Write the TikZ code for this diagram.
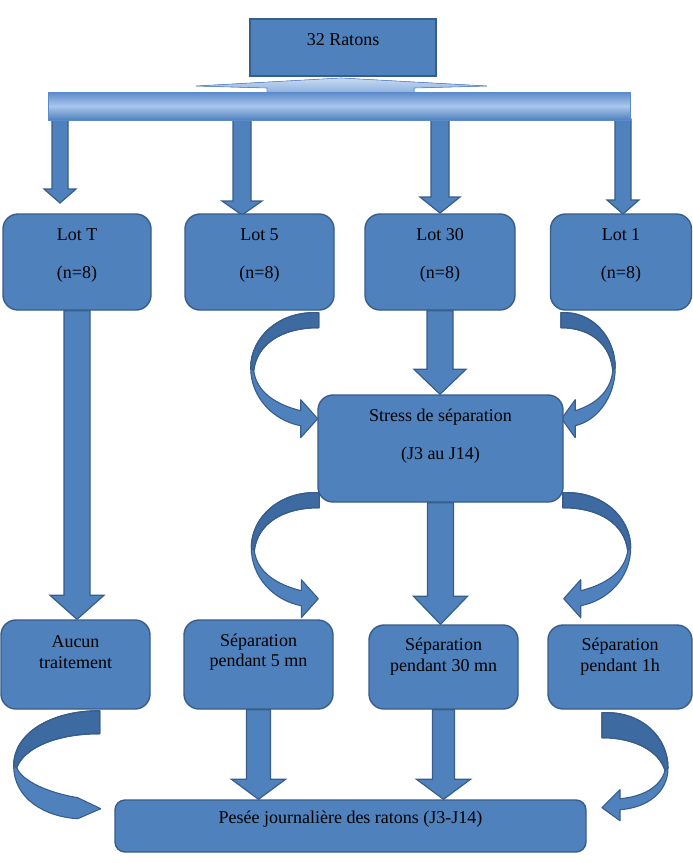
\documentclass[tikz,border=0pt]{standalone}
\usepackage{fontspec}
\setmainfont{Liberation Serif}
\usetikzlibrary{calc}
\definecolor{boxblue}{HTML}{4F81BD}
\definecolor{edgeblue}{HTML}{385D8A}
\definecolor{darkblue}{HTML}{3E6AA2}
\definecolor{barlight}{HTML}{A9C6EC}
\definecolor{bartop}{HTML}{5B8BCB}
\definecolor{trilight}{HTML}{C9DBF2}
\definecolor{trimid}{HTML}{86ACDD}
\pgfdeclarelayer{back}
\pgfsetlayers{back,main}

% curved ribbon arrows: silhouette and darker back part (local px, y down)
\def\pathA{(0,0) .. controls (-40,-2) and (-68,25) .. (-68,55) .. controls (-68,85) and (-45,108) .. (-18,113) -- (-18,125) -- (-1,106) -- (-18,87) -- (-18,98) .. controls (-42,92) and (-62,80) .. (-65,58) .. controls (-62,32) and (-38,15) .. (0,15) -- cycle}
\def\backA{(0,0) .. controls (-40,-2) and (-68,25) .. (-68,55) -- (-65,58) .. controls (-62,32) and (-38,15) .. (0,15) -- cycle}
\def\pathC{(0,0) .. controls (-48,0) and (-86,22) .. (-86,55) .. controls (-86,88) and (-55,106) .. (-22,108) -- (1,98) -- (-22,87) .. controls (-52,82) and (-78,70) .. (-83,57) .. controls (-76,38) and (-45,23) .. (0,23) -- cycle}
\def\backC{(0,0) .. controls (-48,0) and (-86,22) .. (-86,55) -- (-83,57) .. controls (-76,38) and (-45,23) .. (0,23) -- cycle}
\def\pathD{(0,0) .. controls (-40,-2) and (-66,25) .. (-66,55) .. controls (-66,80) and (-45,95) .. (-18,97) -- (-18,108) -- (0,95) -- (-18,77) -- (-18,86) .. controls (-40,84) and (-58,75) .. (-63,58) .. controls (-58,40) and (-35,25) .. (0,25) -- cycle}
\def\backD{(0,0) .. controls (-40,-2) and (-66,25) .. (-66,55) -- (-63,58) .. controls (-58,40) and (-35,25) .. (0,25) -- cycle}

\newcommand{\blockarrowdown}[5]{%
  \filldraw[blockarrow] let \p1=(#1), \p2=(#2) in
    (\x1-#3,\y1) -- (\x1-#3,\y2+#5) -- (\x1-#4,\y2+#5) -- (\x1,\y2)
    -- (\x1+#4,\y2+#5) -- (\x1+#3,\y2+#5) -- (\x1+#3,\y1) -- cycle;}

\tikzset{
  box/.style={draw=edgeblue, line width=1.4pt, fill=boxblue, rounded corners=15pt, inner sep=0pt},
  sqbox/.style={draw=edgeblue, line width=1.4pt, fill=boxblue, inner sep=0pt},
  barbox/.style={draw=bartop, line width=0.6pt, top color=bartop, bottom color=boxblue, middle color=barlight, inner sep=0pt},
  txt/.style={align=center, text=black, font=\fontsize{18}{38}\selectfont, inner sep=0pt},
  txtn/.style={txt, font=\fontsize{18}{20.5}\selectfont},
  arrowbody/.style={fill=boxblue},
  arrowdark/.style={fill=darkblue},
  arrowedge/.style={draw=edgeblue, line width=1.1pt, line join=round},
  blockarrow/.style={fill=boxblue, draw=edgeblue, line width=1.2pt, line join=miter},
  curveA/.pic={
    \fill[arrowbody] \pathA;
    \fill[arrowdark] \backA;
    \draw[arrowedge] \backA;
    \draw[arrowedge] \pathA;
  },
  curveC/.pic={
    \fill[arrowbody] \pathC;
    \fill[arrowdark] \backC;
    \draw[arrowedge] \backC;
    \draw[arrowedge] \pathC;
  },
  curveD/.pic={
    \fill[arrowbody] \pathD;
    \fill[arrowdark] \backD;
    \draw[arrowedge] \backD;
    \draw[arrowedge] \pathD;
  }
}

\begin{document}
\begin{tikzpicture}[x=1pt, y=-1pt]
\useasboundingbox (0,0) rectangle (693,863);

% boxes
\node[sqbox, minimum width=186pt, minimum height=57pt] (ratons) at (343,47.5) {};
\node[barbox, minimum width=582pt, minimum height=28pt] (bar) at (339,106) {};

\node[box, minimum width=148pt, minimum height=96pt] (lotT) at (77,262) {};
\node[box, minimum width=149pt, minimum height=96pt] (lot5) at (259.5,262) {};
\node[box, minimum width=150pt, minimum height=96pt] (lot30) at (440,262) {};
\node[box, minimum width=141pt, minimum height=96pt] (lot1) at (621,262) {};

\node[box, minimum width=245pt, minimum height=107pt] (stress) at (440.5,448.5) {};

\node[box, minimum width=149pt, minimum height=89pt] (aucun) at (75.5,664.5) {};
\node[box, minimum width=149pt, minimum height=89pt] (sep5) at (258.5,664.5) {};
\node[box, minimum width=149pt, minimum height=84pt] (sep30) at (443.5,667) {};
\node[box, minimum width=144pt, minimum height=84pt] (sep1h) at (620,667) {};

\node[box, rounded corners=10pt, minimum width=471pt, minimum height=52pt] (pesee) at (350.5,826) {};

% texts
\node[txt] (tRat) at ([yshift=-21pt]ratons.north) {32 Ratons};
\node[txt] (tLotT) at ([yshift=-42pt]lotT.north) {Lot T\\(n=8)};
\node[txt] (tLot5) at ([yshift=-42pt]lot5.north) {Lot 5\\(n=8)};
\node[txt] (tLot30) at ([yshift=-42pt]lot30.north) {Lot 30\\(n=8)};
\node[txt] (tLot1) at ([yshift=-42pt]lot1.north) {Lot 1\\(n=8)};
\node[txt] (tStress) at ([yshift=-41.5pt]stress.north) {Stress de séparation\\(J3 au J14)};
\node[txtn] (tAucun) at ([yshift=-33pt]aucun.north) {Aucun\\traitement};
\node[txtn] (tSep5) at ([yshift=-33pt]sep5.north) {Séparation\\pendant 5 mn};
\node[txtn] (tSep30) at ([yshift=-32.5pt]sep30.north) {Séparation\\pendant 30 mn};
\node[txtn] (tSep1h) at ([yshift=-32.5pt]sep1h.north) {Séparation\\pendant 1h};
\node[txt] (tPesee) at ([yshift=-20pt]pesee.north) {Pesée journalière des ratons (J3-J14)};

% arrow end points below the bar
\coordinate (a1s) at (60,119);   \coordinate (a1e) at (60,203);
\coordinate (a2s) at (242,119);  \coordinate (a2e) at (242,215);
\coordinate (a3s) at (440,119);  \coordinate (a3e) at (440,213);
\coordinate (a4s) at (623,119);  \coordinate (a4e) at (623,214);

\begin{pgfonlayer}{back}
  \fill[white] (0,0) rectangle (693,863);
  % split arrow top
  \filldraw[top color=trilight, bottom color=trimid, draw=bartop, line width=0.6pt]
    (196,86) -- (341,78) -- (487,86) -- (414,88) -- (414,94) -- (267,94) -- (267,88) -- cycle;
  % straight block arrows
  \blockarrowdown{a1s}{a1e}{8pt}{16pt}{14pt}
  \blockarrowdown{a2s}{a2e}{9pt}{20pt}{14pt}
  \blockarrowdown{a3s}{a3e}{9pt}{20pt}{16pt}
  \blockarrowdown{a4s}{a4e}{8pt}{16pt}{14pt}
  \blockarrowdown{lotT.south}{aucun.north}{13pt}{27pt}{24pt}
  \blockarrowdown{lot30.south}{stress.north}{13pt}{26pt}{25pt}
  \blockarrowdown{stress.south}{sep30.north}{13pt}{27pt}{28pt}
  \blockarrowdown{sep5.south}{sep5.south |- pesee.north}{12pt}{27pt}{20pt}
  \blockarrowdown{sep30.south}{sep30.south |- pesee.north}{11pt}{27pt}{20pt}
  % curved arrows
  \pic at ([xshift=-16pt,yshift=-2pt]lot5.south east) {curveA};
  \pic[xscale=-0.8] at ([xshift=11pt,yshift=-2pt]lot1.south west) {curveA};
  \pic at ([xshift=2pt,yshift=10pt]stress.south west) {curveA};
  \pic[xscale=-1] at ([xshift=-1pt,yshift=10pt]stress.south east) {curveA};
  \pic at ([xshift=-51pt,yshift=-1pt]aucun.south east) {curveC};
  \pic[xscale=-1] at ([xshift=-18pt,yshift=-3pt]sep1h.south) {curveD};
\end{pgfonlayer}
\end{tikzpicture}
\end{document}
